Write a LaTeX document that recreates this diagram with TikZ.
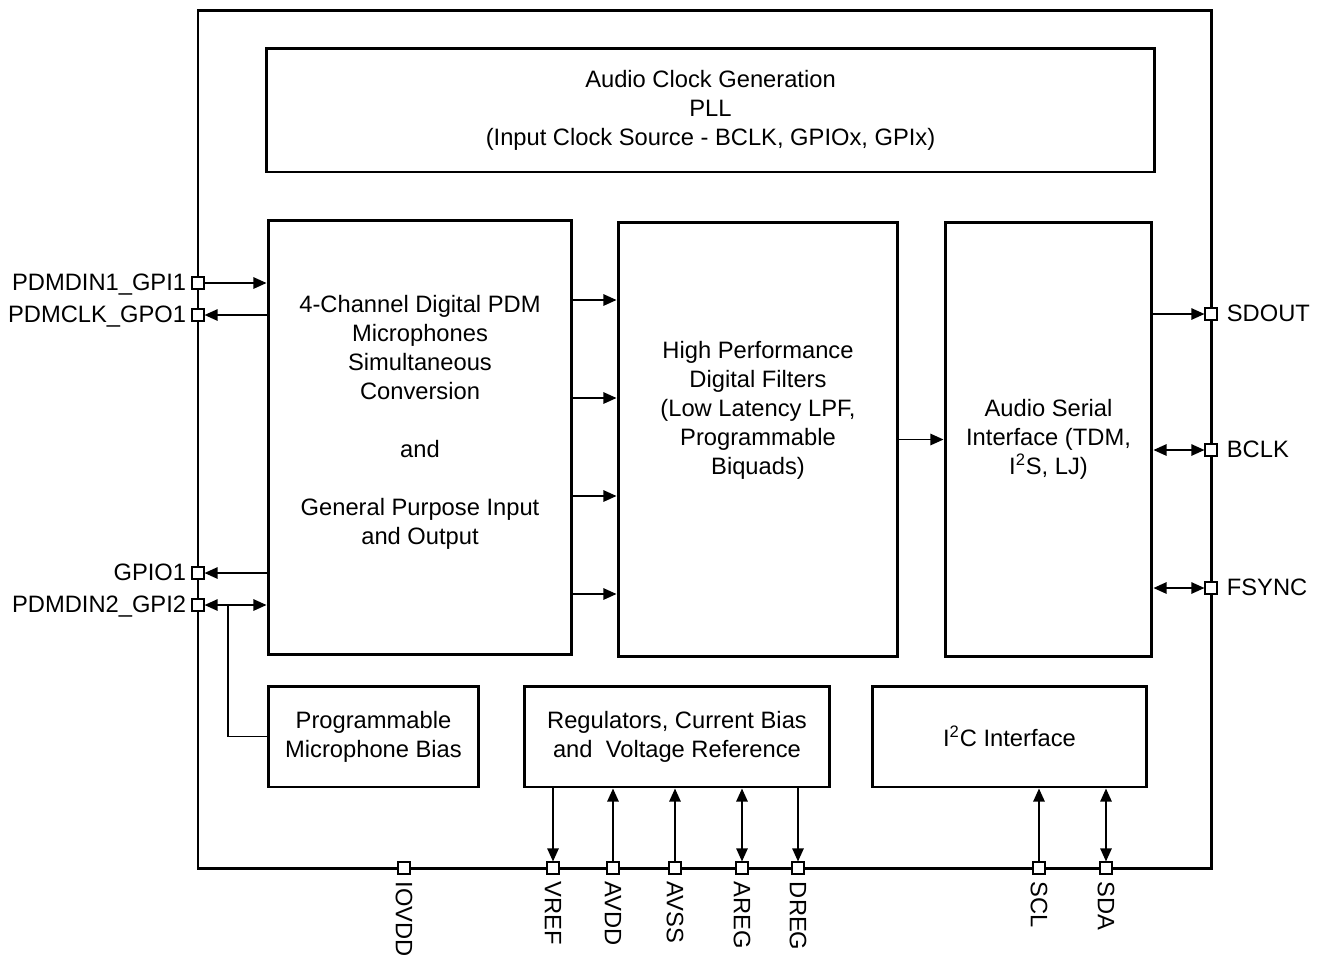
\documentclass[tikz,border=0pt]{standalone}
\usepackage{fontspec}
\setmainfont{Liberation Sans}
\usetikzlibrary{arrows.meta}

\tikzset{
  blk/.style={draw, line width=1.7pt, inner sep=0pt, align=center},
  txt/.style={align=center, inner sep=0pt},
  pad/.style={draw, fill=white, line width=0.9pt, minimum size=0.23cm, inner sep=0pt},
  lbl/.style={inner sep=0pt},
  sig/.style={line width=1pt},
}

\begin{document}
\begin{tikzpicture}[x=0.02cm, y=-0.02cm, font=\fontsize{13.5}{16.5}\selectfont,
    >={Triangle[length=7.5pt,width=6.5pt]}]
  \useasboundingbox (0,0) rectangle (1322,958);

  % chip outline
  \draw[line width=1.7pt] (198,10) rectangle (1211,868);

  % blocks
  \node[blk, minimum width=17.78cm, minimum height=2.48cm] (pll) at (710.5,110)
    {Audio Clock Generation\\PLL\\(Input Clock Source - BCLK, GPIOx, GPIx)};
  \node[blk, minimum width=6.08cm, minimum height=8.7cm] (pdm) at (420,437.5) {};
  \node[txt] (pdmtxt) at (420,422) {4-Channel Digital PDM\\Microphones\\Simultaneous\\Conversion\\~\\and\\~\\General Purpose Input\\and Output};
  \node[blk, minimum width=5.6cm, minimum height=8.7cm] (filt) at (758,439.5) {};
  \node[txt] (filttxt) at (758,410) {High Performance\\Digital Filters\\(Low Latency LPF,\\Programmable\\Biquads)};
  \node[blk, minimum width=4.14cm, minimum height=8.7cm] (asi) at (1048.5,439.5)
    {Audio Serial\\Interface (TDM,\\I\textsuperscript{2}S, LJ)};
  \node[blk, minimum width=4.22cm, minimum height=2.02cm] (mbias) at (373.5,736.5)
    {Programmable\\Microphone Bias};
  \node[blk, minimum width=6.12cm, minimum height=2.02cm] (reg) at (677,736.5)
    {Regulators, Current Bias\\and~~Voltage Reference};
  \node[blk, minimum width=5.5cm, minimum height=2.02cm] (i2c) at (1009.5,736.5)
    {I\textsuperscript{2}C Interface};

  % pads, left side
  \node[pad] (din1) at (198,283) {};
  \node[pad] (clk) at (198,315) {};
  \node[pad] (gpio) at (198,573) {};
  \node[pad] (din2) at (198,605) {};
  \node[lbl, anchor=mid east] (din1lbl) at ([xshift=-0.1cm, yshift=-0.06cm]din1.west) {PDMDIN1\_GPI1};
  \node[lbl, anchor=mid east] (clklbl) at ([xshift=-0.1cm, yshift=-0.06cm]clk.west) {PDMCLK\_GPO1};
  \node[lbl, anchor=mid east] (gpiolbl) at ([xshift=-0.1cm, yshift=-0.06cm]gpio.west) {GPIO1};
  \node[lbl, anchor=mid east] (din2lbl) at ([xshift=-0.1cm, yshift=-0.06cm]din2.west) {PDMDIN2\_GPI2};

  % pads, right side
  \node[pad] (sdout) at (1211,314) {};
  \node[pad] (bclk) at (1211,450) {};
  \node[pad] (fsync) at (1211,588) {};
  \node[lbl, anchor=mid west] (sdoutlbl) at ([xshift=0.18cm, yshift=-0.06cm]sdout.east) {SDOUT};
  \node[lbl, anchor=mid west] (bclklbl) at ([xshift=0.18cm, yshift=-0.06cm]bclk.east) {BCLK};
  \node[lbl, anchor=mid west] (fsynclbl) at ([xshift=0.18cm, yshift=-0.06cm]fsync.east) {FSYNC};

  % pads, bottom side
  \foreach \n/\x/\t in {iovdd/404/IOVDD, vref/553/VREF, avdd/613/AVDD, avss/675/AVSS,
      areg/742/AREG, dreg/798/DREG, scl/1039/SCL, sda/1106/SDA} {
    \node[pad] (\n) at (\x,868) {};
    \node[lbl, rotate=-90, anchor=west] (\n lbl) at ([yshift=-0.14cm]\n.south) {\t};
  }

  % left connections
  \draw[sig, ->] (din1) -- (din1 -| pdm.west);
  \draw[sig, ->] (clk -| pdm.west) -- (clk);
  \draw[sig, ->] (gpio -| pdm.west) -- (gpio);
  \draw[sig, <->] (din2) -- (din2 -| pdm.west);
  \coordinate (tap) at (228,605);
  \draw[sig] (tap) |- (mbias.west);

  % data path
  \foreach \y in {300,398,496,594}
    \draw[sig, ->] (pdm.east |- 0,\y) -- (filt.west |- 0,\y);
  \draw[sig, ->] (filt.east) -- (asi.west);
  \draw[sig, ->] (asi.east |- sdout) -- (sdout);
  \draw[sig, <->] (asi.east |- bclk) -- (bclk);
  \draw[sig, <->] (asi.east |- fsync) -- (fsync);

  % supplies and control
  \draw[sig, ->] (vref |- reg.south) -- (vref);
  \draw[sig, ->] (avdd) -- (avdd |- reg.south);
  \draw[sig, ->] (avss) -- (avss |- reg.south);
  \draw[sig, <->] (areg) -- (areg |- reg.south);
  \draw[sig, ->] (dreg |- reg.south) -- (dreg);
  \draw[sig, ->] (scl) -- (scl |- i2c.south);
  \draw[sig, <->] (sda) -- (sda |- i2c.south);
\end{tikzpicture}
\end{document}
